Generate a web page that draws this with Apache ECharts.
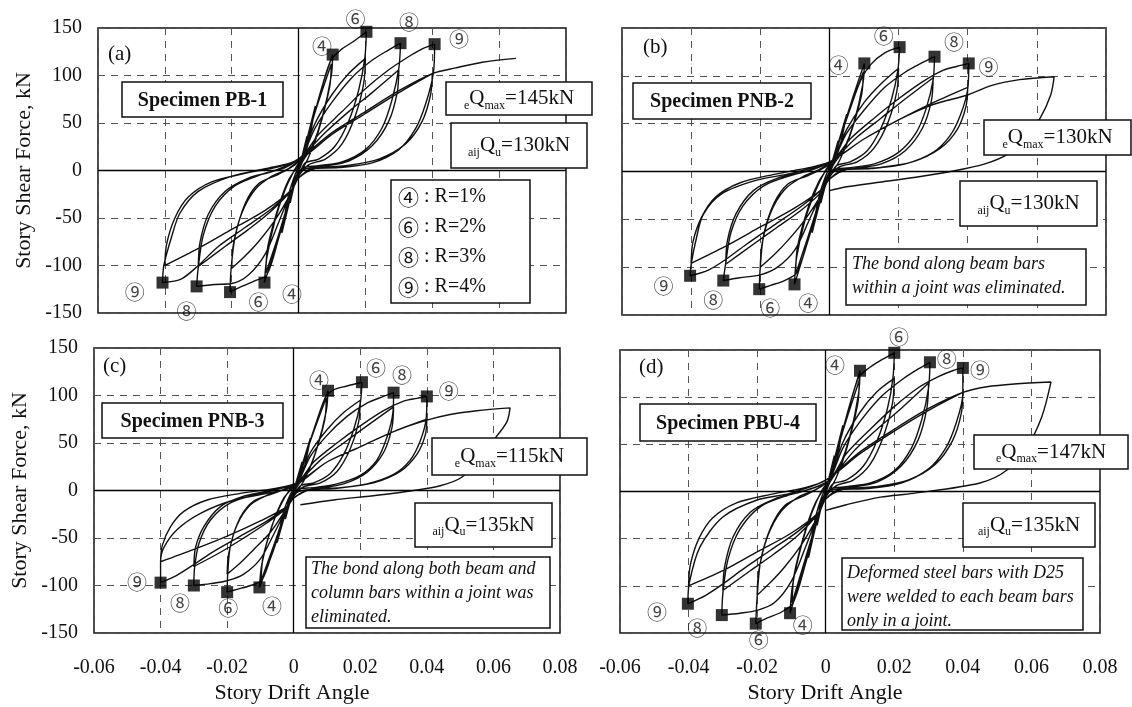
<!doctype html>
<html>
<head>
<meta charset="utf-8">
<title>Story shear force vs story drift angle</title>
<script src="https://cdn.jsdelivr.net/npm/echarts@6/dist/echarts.min.js"></script>
<style>
  html, body { margin: 0; padding: 0; background: #fff; }
  #main { width: 1132px; height: 707px; }
</style>
</head>
<body>
<div id="main"></div>
<script>
// ---- data: [story drift angle, story shear force kN] ----
var xTicks = [-0.06, 0.08, 0.02];   // min, max, step
var yTicks = [-150, 150, 50];

var loopA = [
  [0,0],[0.0025,36],[0.0015,14],[0,2],[-0.0025,-34],[-0.0015,-12],[0,0],
  [0.005,68],[0.003,30],[0.001,8],[-0.001,-10],[-0.005,-66],[-0.003,-26],[-0.001,-4],[0.001,12],
  [0.004,50],[0.007,88],[0.0102,122],[0.0098,100],[0.007,55],[0.004,25],[0.001,8],[-0.002,-22],[-0.006,-70],[-0.0102,-118],[-0.0095,-92],[-0.007,-52],[-0.004,-20],[-0.001,2],[0.001,14],
  [0.005,62],[0.0098,112],[0.0093,88],[0.006,42],[0.003,14],[0,-6],[-0.002,-22],[-0.006,-68],[-0.0098,-108],[-0.0092,-80],[-0.006,-38],[-0.003,-10],[0,6],[0.001,14],
  [0.005,62],[0.0095,115],[0.013,128],[0.0165,136],[0.0203,146],[0.0198,118],[0.018,85],[0.015,52],[0.011,26],[0.006,12],[0.002,8],[0,-6],[-0.002,-22],[-0.006,-72],[-0.0095,-110],[-0.013,-116],[-0.017,-122],[-0.0205,-128],[-0.0202,-104],[-0.019,-70],[-0.016,-35],[-0.012,-14],[-0.006,-4],[-0.001,6],[0.001,15],
  [0.005,50],[0.01,80],[0.015,102],[0.02,118],[0.0195,92],[0.017,58],[0.013,28],[0.008,12],[0.003,6],[0,-6],[-0.002,-22],[-0.007,-52],[-0.012,-75],[-0.016,-90],[-0.02,-103],[-0.0195,-78],[-0.017,-45],[-0.013,-20],[-0.008,-6],[-0.003,2],[0.001,15],
  [0.005,45],[0.01,72],[0.016,98],[0.022,116],[0.027,127],[0.0305,134],[0.030,108],[0.028,75],[0.025,45],[0.02,22],[0.013,9],[0.006,5],[0.001,2],[-0.002,-20],[-0.006,-55],[-0.01,-88],[-0.015,-110],[-0.02,-119],[-0.025,-120],[-0.0305,-122],[-0.030,-102],[-0.0285,-68],[-0.025,-38],[-0.019,-16],[-0.011,-4],[-0.004,3],[0.001,15],
  [0.008,40],[0.015,62],[0.022,82],[0.03,106],[0.0295,82],[0.027,52],[0.022,26],[0.015,10],[0.007,4],[0.001,0],[-0.002,-20],[-0.008,-42],[-0.015,-62],[-0.022,-80],[-0.03,-101],[-0.0295,-76],[-0.027,-46],[-0.022,-22],[-0.015,-8],[-0.007,0],[0.001,15],
  [0.006,38],[0.013,62],[0.02,86],[0.027,106],[0.033,120],[0.037,128],[0.0407,133],[0.0403,102],[0.038,70],[0.035,44],[0.03,22],[0.022,8],[0.012,3],[0.004,2],[0,-8],[-0.002,-20],[-0.008,-40],[-0.016,-60],[-0.024,-80],[-0.03,-100],[-0.035,-114],[-0.0407,-118],[-0.0403,-100],[-0.038,-70],[-0.0355,-45],[-0.03,-22],[-0.02,-6],[-0.01,2],[0,11],
  [0.01,38],[0.02,60],[0.03,82],[0.04,102],[0.0395,80],[0.037,52],[0.032,28],[0.024,12],[0.014,5],[0.005,2],[0,-8],[-0.002,-20],[-0.01,-42],[-0.02,-62],[-0.03,-82],[-0.04,-100],[-0.0395,-78],[-0.037,-50],[-0.033,-28],[-0.026,-12],[-0.016,-3],[-0.006,4],[0,12],
  [0.01,40],[0.02,62],[0.03,84],[0.04,102],[0.047,108],[0.055,114],[0.065,118]
];
var peaksA = [[0.0102,122],[0.0203,146],[0.0305,134],[0.0407,133],[-0.0102,-118],[-0.0205,-128],[-0.0305,-122],[-0.0407,-118]];
var tagsA = [[0.007,131,'④'],[0.017,159,'⑥'],[0.033,156,'⑧'],[0.048,138,'⑨'],[-0.049,-128,'⑨'],[-0.0335,-148,'⑧'],[-0.012,-139,'⑥'],[-0.002,-130,'④']];

var loopB = [
  [0,0],[0.0025,32],[0.0015,12],[0,0],[-0.0025,-33],[-0.0015,-12],[0,0],
  [0.005,60],[0.003,26],[0.001,6],[-0.001,-10],[-0.005,-64],[-0.003,-26],[-0.001,-4],[0.001,12],
  [0.004,46],[0.007,80],[0.0101,113],[0.0097,92],[0.007,50],[0.004,22],[0.001,6],[-0.002,-22],[-0.006,-70],[-0.0101,-118],[-0.0095,-90],[-0.007,-50],[-0.004,-20],[-0.001,2],[0.001,12],
  [0.005,56],[0.0098,104],[0.0093,80],[0.006,38],[0.003,12],[0,-6],[-0.002,-22],[-0.006,-66],[-0.0098,-108],[-0.0092,-78],[-0.006,-36],[-0.003,-10],[0,6],[0.001,12],
  [0.005,55],[0.009,95],[0.012,112],[0.016,124],[0.0203,130],[0.0198,106],[0.018,76],[0.015,46],[0.011,22],[0.006,10],[0.002,6],[0,-6],[-0.002,-22],[-0.006,-70],[-0.0095,-106],[-0.013,-114],[-0.017,-119],[-0.0203,-123],[-0.020,-100],[-0.019,-66],[-0.016,-33],[-0.012,-13],[-0.006,-4],[-0.001,5],[0.001,12],
  [0.005,44],[0.01,72],[0.015,92],[0.02,108],[0.0195,84],[0.017,52],[0.013,25],[0.008,10],[0.003,5],[0,-6],[-0.002,-22],[-0.007,-50],[-0.012,-72],[-0.016,-87],[-0.02,-100],[-0.0195,-76],[-0.017,-43],[-0.013,-19],[-0.008,-6],[-0.003,2],[0.001,12],
  [0.005,40],[0.01,64],[0.016,88],[0.022,104],[0.027,114],[0.0304,120],[0.030,96],[0.028,66],[0.025,40],[0.02,20],[0.013,8],[0.006,4],[0.001,2],[-0.002,-20],[-0.006,-52],[-0.01,-82],[-0.015,-100],[-0.02,-108],[-0.026,-111],[-0.0307,-114],[-0.030,-96],[-0.0285,-64],[-0.025,-36],[-0.019,-15],[-0.011,-4],[-0.004,3],[0.001,12],
  [0.008,36],[0.015,56],[0.022,76],[0.03,98],[0.0295,74],[0.027,46],[0.022,22],[0.015,8],[0.007,3],[0.001,0],[-0.002,-20],[-0.008,-40],[-0.015,-58],[-0.022,-76],[-0.03,-97],[-0.0295,-72],[-0.027,-44],[-0.022,-20],[-0.015,-7],[-0.007,0],[0.001,12],
  [0.006,34],[0.013,56],[0.02,76],[0.027,94],[0.033,106],[0.037,110],[0.0403,113],[0.040,86],[0.038,60],[0.035,38],[0.03,20],[0.022,8],[0.012,3],[0.004,2],[0,-8],[-0.002,-18],[-0.008,-36],[-0.016,-56],[-0.024,-76],[-0.03,-92],[-0.035,-103],[-0.0403,-109],[-0.040,-97],[-0.0385,-70],[-0.0365,-45],[-0.031,-23],[-0.021,-9],[-0.011,-2],[0,10],
  [0.01,34],[0.02,54],[0.03,72],[0.04,88],[0.0395,68],[0.037,44],[0.032,24],[0.024,10],[0.014,4],[0.005,2],[0,-8],[-0.002,-18],[-0.01,-38],[-0.02,-58],[-0.03,-78],[-0.04,-96],[-0.0395,-74],[-0.037,-48],[-0.033,-27],[-0.026,-12],[-0.016,-3],[-0.006,4],[0,10],
  [0.01,34],[0.02,54],[0.03,70],[0.04,80],[0.047,90],[0.055,96],[0.065,99],[0.064,80],[0.061,56],[0.057,35],[0.052,19],[0.045,8],[0.035,0],[0.025,-6],[0.015,-11],[0.005,-16],[0,-20]
];
var peaksB = [[0.0101,113],[0.0203,130],[0.0304,120],[0.0403,113],[-0.0101,-118],[-0.0203,-123],[-0.0307,-114],[-0.0403,-109]];
var tagsB = [[0.0026,111,'④'],[0.0157,141,'⑥'],[0.036,135,'⑧'],[0.046,109,'⑨'],[-0.048,-120,'⑨'],[-0.0336,-135,'⑧'],[-0.0171,-143,'⑥'],[-0.0061,-138,'④']];

var loopC = [
  [0,0],[0.0025,30],[0.0015,10],[0,0],[-0.0025,-30],[-0.0015,-10],[0,0],
  [0.005,55],[0.003,22],[0.001,5],[-0.001,-8],[-0.005,-55],[-0.003,-22],[-0.001,-4],[0.001,8],
  [0.004,42],[0.007,74],[0.0103,105],[0.0098,84],[0.007,45],[0.004,18],[0.001,4],[-0.002,-20],[-0.006,-62],[-0.0103,-102],[-0.0096,-78],[-0.007,-42],[-0.004,-16],[-0.001,2],[0.001,8],
  [0.005,52],[0.0098,98],[0.0093,74],[0.006,34],[0.003,10],[0,-6],[-0.002,-18],[-0.006,-58],[-0.0098,-95],[-0.0092,-70],[-0.006,-32],[-0.003,-8],[0,4],[0.001,8],
  [0.005,52],[0.0095,98],[0.012,106],[0.016,110],[0.0205,114],[0.020,92],[0.018,64],[0.015,38],[0.011,18],[0.006,8],[0.002,5],[0,-6],[-0.002,-18],[-0.006,-60],[-0.0095,-94],[-0.013,-100],[-0.017,-104],[-0.020,-107],[-0.0198,-86],[-0.019,-58],[-0.016,-28],[-0.012,-11],[-0.006,-3],[-0.001,4],[0.001,8],
  [0.005,40],[0.01,64],[0.015,82],[0.02,95],[0.0195,72],[0.017,44],[0.013,20],[0.008,8],[0.003,4],[0,-6],[-0.002,-18],[-0.007,-44],[-0.012,-62],[-0.016,-76],[-0.02,-88],[-0.0195,-66],[-0.017,-36],[-0.013,-15],[-0.008,-5],[-0.003,1],[0.001,8],
  [0.005,36],[0.01,58],[0.016,78],[0.022,92],[0.027,99],[0.030,103],[0.0298,82],[0.028,56],[0.025,32],[0.02,16],[0.013,7],[0.006,3],[0.001,1],[-0.002,-18],[-0.006,-46],[-0.01,-72],[-0.015,-88],[-0.02,-95],[-0.025,-98],[-0.030,-100],[-0.0298,-82],[-0.0285,-56],[-0.025,-31],[-0.019,-13],[-0.011,-4],[-0.004,2],[0.001,8],
  [0.008,32],[0.015,50],[0.022,68],[0.03,88],[0.0295,66],[0.027,40],[0.022,19],[0.015,7],[0.007,2],[0.001,-2],[-0.002,-18],[-0.008,-34],[-0.015,-50],[-0.022,-65],[-0.03,-80],[-0.0295,-60],[-0.027,-38],[-0.022,-17],[-0.015,-6],[-0.007,0],[0.001,8],
  [0.006,30],[0.013,50],[0.02,68],[0.027,84],[0.033,94],[0.037,97],[0.040,99],[0.0398,76],[0.038,52],[0.035,32],[0.03,17],[0.022,7],[0.012,2],[0.004,0],[0,-8],[-0.002,-17],[-0.008,-32],[-0.016,-48],[-0.024,-64],[-0.03,-78],[-0.035,-89],[-0.040,-97],[-0.040,-75],[-0.039,-60],[-0.035,-41],[-0.028,-24],[-0.018,-10],[-0.008,-3],[0,4],
  [0.01,30],[0.02,46],[0.03,62],[0.04,75],[0.0395,58],[0.037,38],[0.032,20],[0.024,8],[0.014,3],[0.005,1],[0,-8],[-0.002,-17],[-0.01,-32],[-0.02,-48],[-0.03,-62],[-0.040,-75],[-0.0395,-58],[-0.037,-38],[-0.033,-22],[-0.026,-10],[-0.016,-3],[-0.006,2],[0.001,8],
  [0.01,30],[0.02,46],[0.03,62],[0.04,74],[0.047,80],[0.055,84],[0.065,87],[0.064,72],[0.06,53],[0.055,32],[0.0505,14],[0.044,5],[0.036,0],[0.025,-5],[0.012,-10],[0.002,-15]
];
var peaksC = [[0.0103,105],[0.0205,114],[0.030,103],[0.040,99],[-0.0103,-102],[-0.020,-107],[-0.030,-100],[-0.040,-97]];
var tagsC = [[0.0076,116,'④'],[0.0247,129,'⑥'],[0.0325,121,'⑧'],[0.0466,104,'⑨'],[-0.0471,-97,'⑨'],[-0.0342,-119,'⑧'],[-0.0197,-124,'⑥'],[-0.0065,-122,'④']];

var loopD = [
  [0,0],[0.0025,38],[0.0015,14],[0,2],[-0.0025,-36],[-0.0015,-12],[0,0],
  [0.005,70],[0.003,30],[0.001,8],[-0.001,-10],[-0.005,-70],[-0.003,-28],[-0.001,-4],[0.001,12],
  [0.004,52],[0.007,92],[0.010,128],[0.0096,104],[0.007,58],[0.004,26],[0.001,8],[-0.002,-24],[-0.006,-76],[-0.0104,-129],[-0.0097,-100],[-0.007,-56],[-0.004,-22],[-0.001,2],[0.001,12],
  [0.005,64],[0.0098,118],[0.0093,92],[0.006,44],[0.003,14],[0,-6],[-0.002,-24],[-0.006,-72],[-0.0098,-118],[-0.0092,-88],[-0.006,-42],[-0.003,-12],[0,6],[0.001,12],
  [0.005,64],[0.0095,120],[0.013,132],[0.0165,140],[0.020,147],[0.0196,120],[0.018,88],[0.015,54],[0.011,27],[0.006,12],[0.002,8],[0,-6],[-0.002,-24],[-0.006,-78],[-0.0095,-118],[-0.013,-128],[-0.017,-134],[-0.0204,-140],[-0.020,-112],[-0.019,-74],[-0.016,-38],[-0.012,-15],[-0.006,-4],[-0.001,6],[0.001,12],
  [0.005,52],[0.01,84],[0.015,106],[0.02,120],[0.0195,94],[0.017,60],[0.013,29],[0.008,12],[0.003,6],[0,-6],[-0.002,-24],[-0.007,-56],[-0.012,-80],[-0.016,-96],[-0.02,-110],[-0.0195,-84],[-0.017,-48],[-0.013,-21],[-0.008,-6],[-0.003,2],[0.001,12],
  [0.005,46],[0.01,74],[0.016,100],[0.022,118],[0.027,130],[0.0304,137],[0.030,110],[0.028,76],[0.025,46],[0.02,22],[0.013,9],[0.006,5],[0.001,2],[-0.002,-22],[-0.006,-60],[-0.01,-95],[-0.015,-118],[-0.02,-126],[-0.025,-129],[-0.0303,-131],[-0.030,-108],[-0.0285,-72],[-0.025,-40],[-0.019,-16],[-0.011,-4],[-0.004,3],[0.001,12],
  [0.008,42],[0.015,66],[0.022,88],[0.03,115],[0.0295,88],[0.027,55],[0.022,27],[0.015,10],[0.007,4],[0.001,0],[-0.002,-22],[-0.008,-46],[-0.015,-66],[-0.022,-84],[-0.03,-105],[-0.0295,-80],[-0.027,-48],[-0.022,-22],[-0.015,-8],[-0.007,0],[0.001,12],
  [0.006,40],[0.013,66],[0.02,90],[0.027,110],[0.033,122],[0.037,128],[0.040,131],[0.040,104],[0.038,72],[0.035,46],[0.03,24],[0.022,9],[0.012,3],[0.004,2],[0,-8],[-0.002,-22],[-0.008,-42],[-0.016,-62],[-0.024,-82],[-0.03,-98],[-0.035,-110],[-0.0402,-119],[-0.0398,-97],[-0.0367,-59],[-0.030,-27],[-0.02,-9],[-0.0104,-2],[0,12],
  [0.01,40],[0.02,64],[0.03,86],[0.04,105],[0.0395,82],[0.037,54],[0.032,29],[0.024,12],[0.014,5],[0.005,2],[0,-8],[-0.002,-22],[-0.01,-44],[-0.02,-64],[-0.03,-84],[-0.04,-100],[-0.0395,-78],[-0.037,-50],[-0.033,-28],[-0.026,-12],[-0.016,-3],[-0.006,4],[0,12],
  [0.01,42],[0.02,66],[0.03,88],[0.04,105],[0.047,111],[0.055,114],[0.0657,116],[0.063,79],[0.0587,47],[0.053,23],[0.045,9],[0.0255,-2],[0.016,-6],[0.006,-14],[0,-20]
];
var peaksD = [[0.010,128],[0.020,147],[0.0304,137],[0.040,131],[-0.0104,-129],[-0.0204,-140],[-0.0303,-131],[-0.0402,-119]];
var tagsD = [[0.0027,134,'④'],[0.0214,163,'⑥'],[0.0353,140,'⑧'],[0.045,128,'⑨'],[-0.0492,-128,'⑨'],[-0.0375,-145,'⑧'],[-0.0195,-158,'⑥'],[-0.0067,-142,'④']];

var specimens = ['Specimen PB-1', 'Specimen PNB-2', 'Specimen PNB-3', 'Specimen PBU-4'];
var qMax = ['145kN', '130kN', '115kN', '147kN'];
var qU = ['130kN', '130kN', '135kN', '135kN'];
var legendMarks = ['④', '⑥', '⑧', '⑨'];
var legendText = [' : R=1%', ' : R=2%', ' : R=3%', ' : R=4%'];
var notes = [
  null,
  ['The bond along beam bars', 'within a joint was eliminated.'],
  ['The bond along both beam and', 'column bars within a joint was', 'eliminated.'],
  ['Deformed steel bars with D25', 'were welded to each beam bars', 'only in a joint.']
];

// ---- layout ----
var SERIF = "'Liberation Serif', 'DejaVu Serif', serif";
var CIRC = "'Noto Sans CJK JP', 'DejaVu Sans', sans-serif";
var grids = [
  { left: 98, top: 28, width: 468, height: 285 },
  { left: 622, top: 28, width: 484, height: 287 },
  { left: 94, top: 348, width: 466, height: 285 },
  { left: 620, top: 350, width: 480, height: 283 }
];

var chart = echarts.init(document.getElementById('main'), null, { renderer: 'canvas' });

var xAxes = [], yAxes = [], series = [];
var panels = [[loopA, peaksA, tagsA], [loopB, peaksB, tagsB], [loopC, peaksC, tagsC], [loopD, peaksD, tagsD]];

panels.forEach(function (p, i) {
  var bottom = i >= 2, leftSide = i % 2 === 0;
  xAxes.push({
    type: 'value', gridIndex: i, min: xTicks[0], max: xTicks[1], interval: xTicks[2],
    axisLine: { show: false }, axisTick: { show: false },
    axisLabel: { show: bottom, margin: 25, color: '#111', fontSize: 20, fontFamily: SERIF },
    splitLine: { show: true, lineStyle: { color: '#555', type: [7, 6], width: 1 } },
    name: bottom ? 'Story Drift Angle' : '', nameLocation: 'middle', nameGap: 49,
    nameTextStyle: { color: '#111', fontSize: 22, fontFamily: SERIF, padding: [0, 70, 0, 0] }
  });
  yAxes.push({
    type: 'value', gridIndex: i, min: yTicks[0], max: yTicks[1], interval: yTicks[2],
    axisLine: { show: false }, axisTick: { show: false },
    axisLabel: { show: leftSide, margin: 16, color: '#111', fontSize: 20, fontFamily: SERIF },
    splitLine: { show: true, lineStyle: { color: '#555', type: [7, 6], width: 1 } },
    name: leftSide ? 'Story Shear Force, kN' : '', nameLocation: 'middle', nameGap: 63,
    nameTextStyle: { color: '#111', fontSize: 22, fontFamily: SERIF }
  });
  series.push({
    type: 'line', xAxisIndex: i, yAxisIndex: i, data: p[0], smooth: 0.3,
    showSymbol: false, lineStyle: { color: '#111', width: 1.4 }, z: 3,
    markLine: {
      silent: true, symbol: ['none', 'none'], label: { show: false },
      lineStyle: { color: '#000', type: 'solid', width: 1.3 },
      data: [{ xAxis: 0 }, { yAxis: 0 }]
    }
  });
  series.push({
    type: 'scatter', xAxisIndex: i, yAxisIndex: i, data: p[1], symbol: 'rect',
    symbolSize: 12, itemStyle: { color: '#000' }, z: 5, clip: false
  });
  series.push({
    type: 'scatter', xAxisIndex: i, yAxisIndex: i, data: p[2], symbol: 'circle',
    symbolSize: 1, itemStyle: { color: 'rgba(0,0,0,0)' }, z: 6, clip: false,
    label: {
      show: true, position: 'inside', color: '#111', fontSize: 20, fontFamily: CIRC,
      formatter: function (d) { return d.value[2]; }
    }
  });
});

// ---- annotation boxes ----
var graphics = [];
function box(x, y, w, h) {
  graphics.push({ type: 'rect', z: 100, shape: { x: x, y: y, width: w, height: h },
    style: { fill: '#fff', stroke: '#111', lineWidth: 1.5 } });
}
function txt(x, y, text, extra) {
  var st = { text: text, fill: '#111', font: '21px ' + SERIF, align: 'center', verticalAlign: 'middle' };
  for (var k in extra) st[k] = extra[k];
  graphics.push({ type: 'text', z: 101, x: x, y: y, style: st });
}
var qRich = {
  m: { fontSize: 21, fontFamily: SERIF, lineHeight: 26, verticalAlign: 'middle', fill: '#111' },
  s: { fontSize: 12, fontFamily: SERIF, lineHeight: 12, verticalAlign: 'bottom', fill: '#111' }
};
var legRich = {
  c: { fontSize: 21, fontFamily: CIRC, lineHeight: 30, fill: '#111' },
  t: { fontSize: 20, fontFamily: SERIF, lineHeight: 30, fill: '#111' }
};

var letters = ['(a)', '(b)', '(c)', '(d)'];
var letterPos = [[108, 54], [643, 47], [103, 366], [639, 367]];
var specBox = [[122, 82, 161, 35], [633, 83, 178, 36], [102, 403, 181, 35], [640, 404, 176, 37]];
var qMaxBox = [[446, 82, 146, 33], [984, 120, 147, 35], [432, 438, 155, 37], [974, 435, 154, 34]];
var qUBox = [[451, 123, 136, 45], [960, 181, 137, 45], [415, 503, 137, 44], [963, 503, 132, 44]];
var noteBox = [null, [846, 249, 240, 56], [306, 557, 244, 71], [842, 558, 241, 72]];
var noteTop = [null, [852, 252], [311, 557], [847, 561]];

for (var i = 0; i < 4; i++) {
  txt(letterPos[i][0], letterPos[i][1], letters[i], { align: 'left' });
  var b = specBox[i];
  box(b[0], b[1], b[2], b[3]);
  txt(b[0] + b[2] / 2, b[1] + b[3] / 2 + 1, specimens[i], { font: 'bold 20px ' + SERIF });
  b = qMaxBox[i];
  box(b[0], b[1], b[2], b[3]);
  txt(b[0] + b[2] / 2, b[1] + b[3] / 2, '{s|e}{m|Q}{s|max}{m|=' + qMax[i] + '}', { rich: qRich });
  b = qUBox[i];
  box(b[0], b[1], b[2], b[3]);
  txt(b[0] + b[2] / 2, b[1] + b[3] / 2, '{s|aij}{m|Q}{s|u}{m|=' + qU[i] + '}', { rich: qRich });
  if (notes[i]) {
    b = noteBox[i];
    box(b[0], b[1], b[2], b[3]);
    txt(noteTop[i][0], noteTop[i][1], notes[i].join('\n'),
      { font: 'italic 18px ' + SERIF, align: 'left', verticalAlign: 'top', lineHeight: 24 });
  }
}
box(391, 180, 139, 123);
txt(398, 182, legendMarks.map(function (m, k) {
  return '{c|' + m + '}{t|' + legendText[k] + '}';
}).join('\n'), { align: 'left', verticalAlign: 'top', rich: legRich });

chart.setOption({
  animation: false,
  backgroundColor: '#fff',
  textStyle: { fontFamily: SERIF },
  grid: grids.map(function (g) {
    return { left: g.left, top: g.top, width: g.width, height: g.height, show: true,
      borderColor: '#111', borderWidth: 1.5, backgroundColor: 'transparent', containLabel: false };
  }),
  xAxis: xAxes,
  yAxis: yAxes,
  series: series,
  graphic: { elements: graphics }
});

window.addEventListener('resize', chart.resize);
</script>
</body>
</html>
